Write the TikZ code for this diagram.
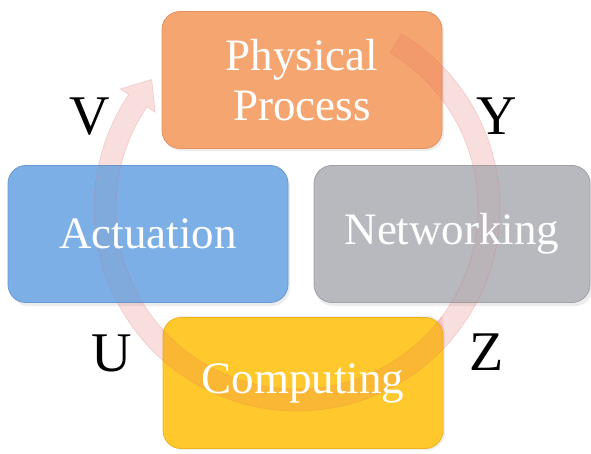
\documentclass[tikz,border=0pt]{standalone}
\usepackage{fontspec}
\setmainfont{Liberation Serif}
\usetikzlibrary{calc}
\definecolor{orangeC}{RGB}{245,166,112}
\definecolor{orangeD}{RGB}{228,145,92}
\definecolor{blueC}{RGB}{124,175,229}
\definecolor{blueD}{RGB}{100,152,210}
\definecolor{grayC}{RGB}{184,185,190}
\definecolor{grayD}{RGB}{160,161,167}
\definecolor{yellowC}{RGB}{255,200,45}
\definecolor{yellowD}{RGB}{238,180,30}
\definecolor{arcC}{RGB}{225,90,90}
\tikzset{
  boxst/.style={rounded corners=18pt, minimum width=280pt, minimum height=137pt,
    inner sep=0pt, line width=0.8pt},
  labelst/.style={inner sep=0pt, align=center, text=white,
    font=\fontsize{45}{50}\selectfont},
  letterst/.style={anchor=base, inner sep=0pt, text=black,
    font=\fontsize{56}{60}\selectfont},
  arcst/.style={fill=arcC, fill opacity=0.15, draw=arcC, draw opacity=0.18, line width=0.6pt},
  shadowst/.style={fill=black, opacity=0.07, rounded corners=18pt}
}
\begin{document}
\begin{tikzpicture}[x=1pt,y=1pt]
\useasboundingbox (0,0) rectangle (591,453);
% shadows
\fill[shadowst] (164,302) rectangle (444,439);
\fill[shadowst] (10,147) rectangle (290,284);
\fill[shadowst] (315,147) rectangle (593,284);
\fill[shadowst] (165,3) rectangle (445,137);
% arc behind boxes
\coordinate (C) at (297,245);
\fill[arcst, fill opacity=0.2, draw opacity=0.25] ($(C)+(59:203)$) arc[start angle=59, end angle=-214, radius=203]
  -- ($(C)+(146:213)$) -- ($(C)+(138.5:194)$) -- ($(C)+(146:171)$)
  -- ($(C)+(146:181)$) arc[start angle=-214, end angle=59, radius=181] -- cycle;
% boxes
\node[boxst, fill=orangeC, draw=orangeD] (pp) at (302,373) {};
\node[boxst, fill=blueC, draw=blueD] (act) at (148,219) {};
\node[boxst, fill=grayC, draw=grayD, minimum width=276pt] (net) at (452,219) {};
\node[boxst, fill=yellowC, draw=yellowD, minimum height=131pt] (comp) at (303,70) {};
% circular arrow, faint over the boxes
\begin{scope}
\clip (pp.south west) rectangle (pp.north east) (comp.south west) rectangle (comp.north east);
\fill[arcst] ($(C)+(59:203)$) arc[start angle=59, end angle=-214, radius=203]
  -- ($(C)+(146:213)$) -- ($(C)+(138.5:194)$) -- ($(C)+(146:171)$)
  -- ($(C)+(146:181)$) arc[start angle=-214, end angle=59, radius=181] -- cycle;
\end{scope}
\begin{scope}
\clip (act.south west) rectangle (act.north east) (net.south west) rectangle (net.north east);
\draw[arcC, draw opacity=0.2, line width=0.6pt] ($(C)+(59:203)$) arc[start angle=59, end angle=-214, radius=203]
  -- ($(C)+(146:213)$) -- ($(C)+(138.5:194)$) -- ($(C)+(146:171)$)
  -- ($(C)+(146:181)$) arc[start angle=-214, end angle=59, radius=181] -- cycle;
\fill[arcC, fill opacity=0.06] ($(C)+(59:203)$) arc[start angle=59, end angle=-214, radius=203]
  -- ($(C)+(146:181)$) arc[start angle=-214, end angle=59, radius=181] -- cycle;
\end{scope}
% labels
\node[labelst] (tpp) at (pp.center) {Physical\\Process};
\node[labelst] (tact) at (act.center) {Actuation};
\node[labelst] (tnet) at (net.center) {Networking};
\node[labelst] (tcomp) at (comp.center) {Computing};
% letters
\node[letterst] (v) at (90,318) {V};
\node[letterst] (y) at (497,318) {Y};
\node[letterst] (u) at (112,82) {U};
\node[letterst] (z) at (487,83) {Z};
\end{tikzpicture}
\end{document}
